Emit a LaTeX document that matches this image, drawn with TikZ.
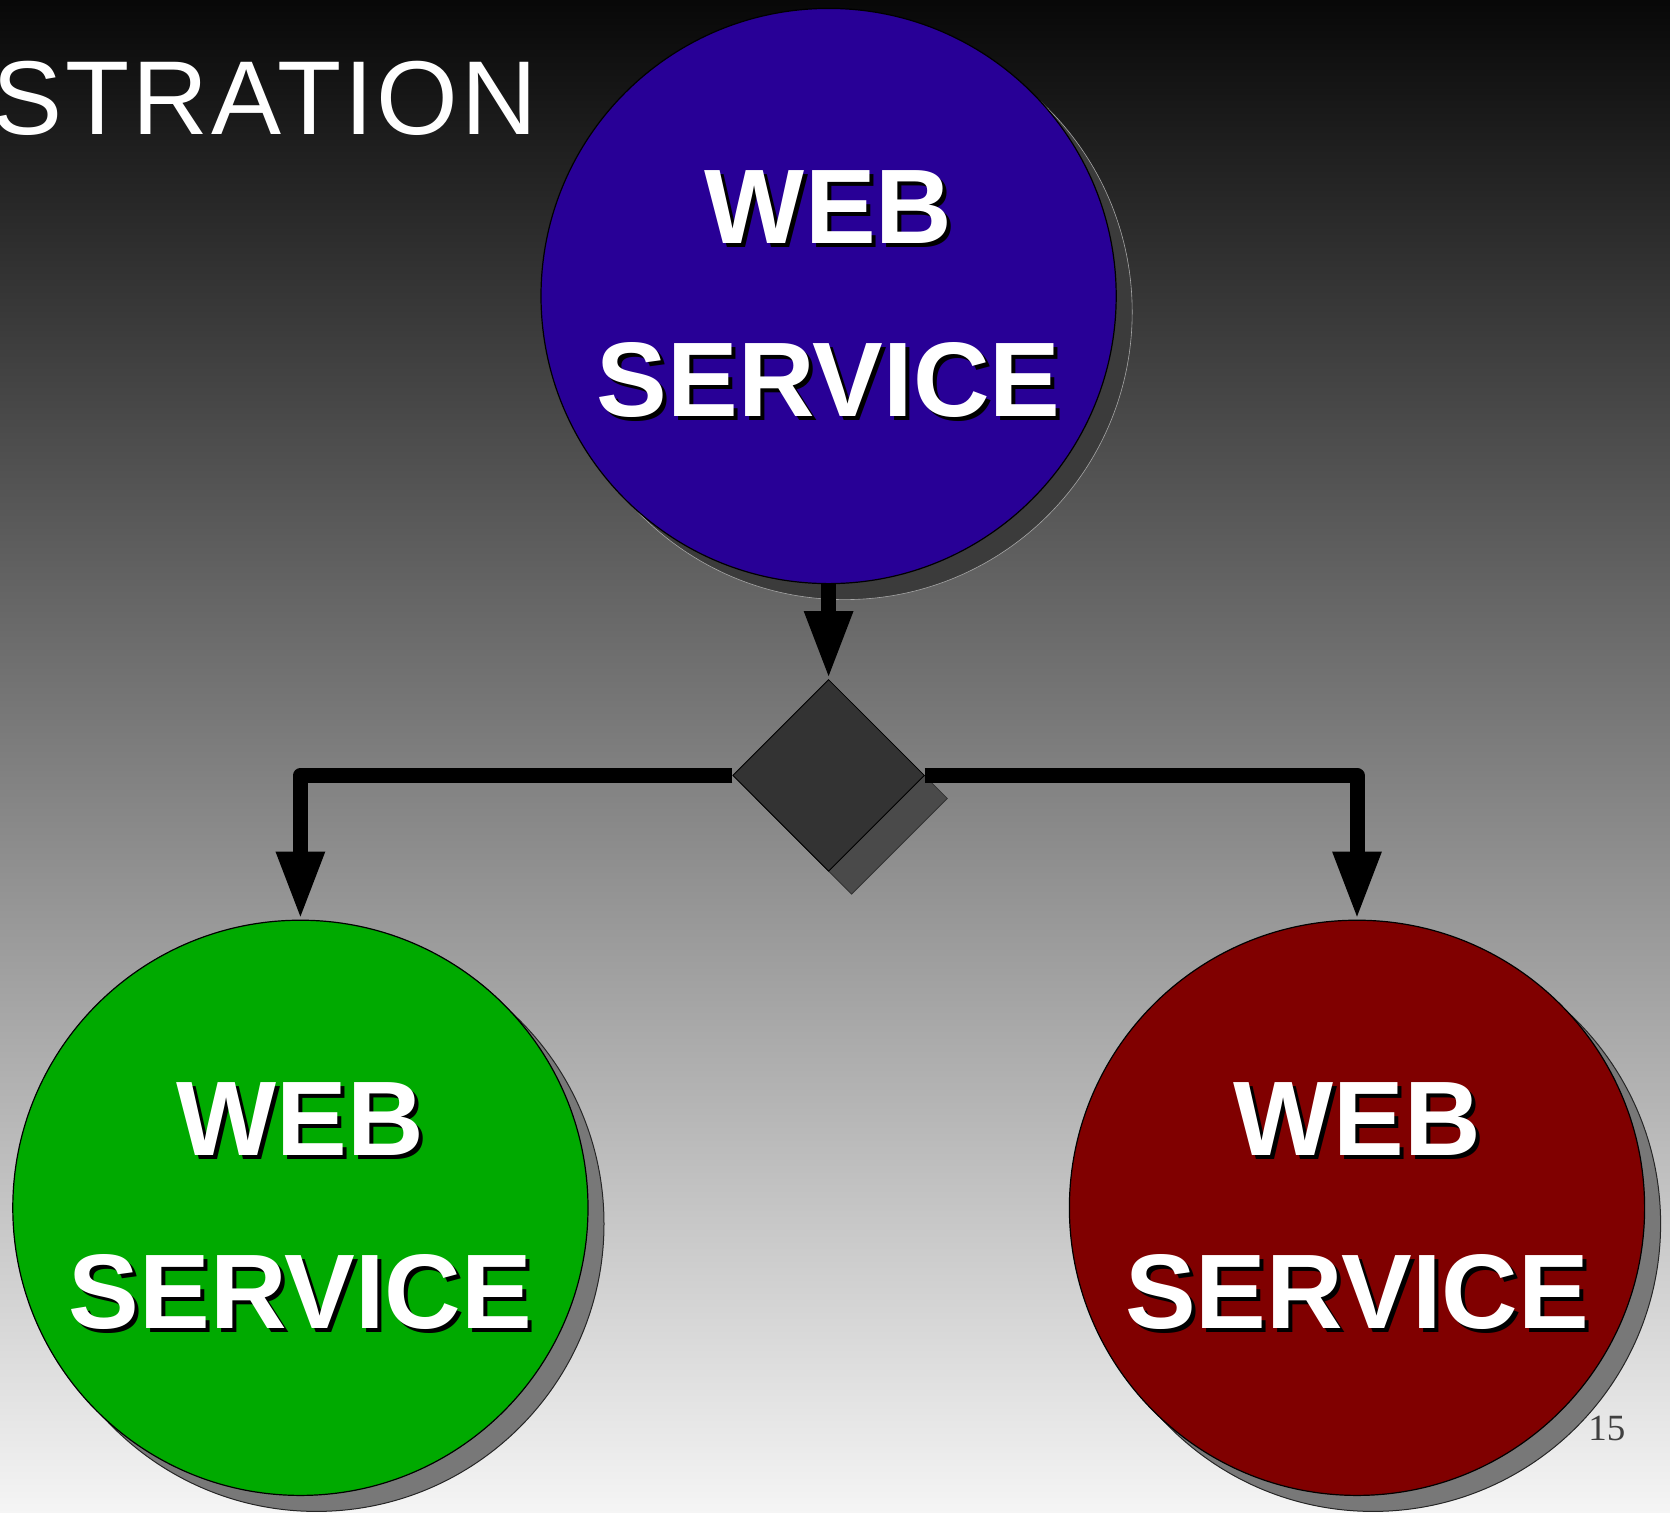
\documentclass[tikz,border=0pt]{standalone}
\usepackage{fontspec}
\setmainfont{Liberation Sans}
\newfontfamily\titlefont[LetterSpace=3]{Liberation Sans}
\newfontfamily\pagefont{Liberation Serif}
\usetikzlibrary{shapes.geometric,shadows,arrows.meta}
\definecolor{wsblue}{HTML}{280096}
\definecolor{wsgreen}{HTML}{00AA00}
\definecolor{wsred}{HTML}{800000}
\newcommand{\shtext}[1]{\rlap{\kern2pt\raisebox{-2pt}{\color{black}#1}}{\color{white}#1}}
\tikzset{
  service/.style={circle,draw=black,line width=0.6pt,minimum size=287.6pt,inner sep=0pt,
    align=center,font=\bfseries\fontsize{53}{86.5}\selectfont},
  darkshadow/.style={drop shadow={shadow xshift=8pt,shadow yshift=-8pt,fill=black!77,draw=gray!70,line width=0.3pt,opacity=1}},
  lightshadow/.style={drop shadow={shadow xshift=8pt,shadow yshift=-8pt,fill=black!53,draw=black!85,line width=0.5pt,opacity=1}},
  decision/.style={diamond,aspect=1,minimum size=95.9pt,inner sep=0pt,fill=black!80,draw=black,line width=0.4pt,
    drop shadow={shadow xshift=11.5pt,shadow yshift=-11.5pt,fill=black!71,draw=black!80,line width=0.4pt,opacity=1}},
  flow/.style={line width=7.5pt,line join=round,-{Triangle[width=22.4pt,length=34pt]}}
}
\begin{document}
\begin{tikzpicture}[x=0.5pt,y=-0.5pt]
          \useasboundingbox (0,0) rectangle (1670,1512);
          \shade[top color=black!97,bottom color=black!4] (0,0) rectangle (1670,1512);
          \node[anchor=base west,white,inner sep=0pt,font=\titlefont\fontsize{52.5}{60}\selectfont] (title) at (-8,134){STRATION};
          \node[anchor=base west,black!75,inner sep=0pt,font=\pagefont\fontsize{18.5}{22}\selectfont] (page) at (1588,1440){15};
          \node[service,darkshadow,fill=wsblue] (top) at (828.6,296){\shtext{WEB}\\\shtext{SERVICE}};
          \node[service,lightshadow,fill=wsgreen] (left) at (300.4,1207.8){\shtext{WEB}\\\shtext{SERVICE}};
          \node[service,lightshadow,fill=wsred] (right) at (1357,1207.8){\shtext{WEB}\\\shtext{SERVICE}};
          \node[decision] (choice) at (828.6,775.4){};
          \draw[flow] (top.south) -- (choice.north);
          \draw[flow] (choice.west) -| (left.north);
          \draw[flow] (choice.east) -| (right.north);
        \end{tikzpicture}
\end{document}
